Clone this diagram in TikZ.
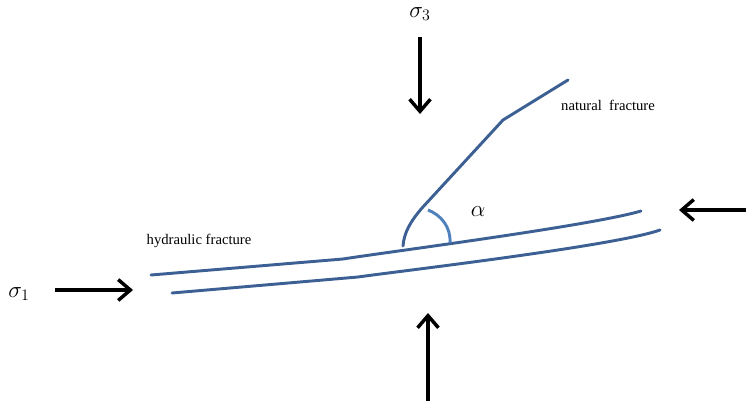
\documentclass[tikz,border=0pt]{standalone}
\usepackage{fontspec}
\setmainfont{Liberation Serif}
\usepackage{tikz}
\usetikzlibrary{arrows.meta}
\definecolor{fracblue}{RGB}{60,96,148}
\definecolor{arcblue}{RGB}{79,129,189}
\tikzset{
  frac/.style={draw=fracblue,line width=2.2pt,line cap=round},
  anglearc/.style={draw=arcblue,line width=2.2pt},
  load/.style={-{Straight Barb[length=3.2mm,width=5.5mm,line width=2.6pt]},
    line width=2.3pt,draw=black},
  lbl/.style={font=\fontsize{11}{13}\selectfont,inner sep=1pt},
  sig/.style={font=\LARGE,inner sep=1pt}
}

\begin{document}
\begin{tikzpicture}[x=0.75pt,y=-0.75pt]
  \useasboundingbox (0,0) rectangle (746,403);

  % stresses
  \node[sig] (s3) at (420,14) {$\sigma_3$};
  \node[sig] (s1) at (19,294) {$\sigma_1$};
  \coordinate (s3a) at (420,37);
  \coordinate (s3b) at (420,114);
  \coordinate (s1a) at (55,290);
  \coordinate (s1b) at (133,290);
  \coordinate (rta) at (746,210);
  \coordinate (rtb) at (679,210);
  \coordinate (bta) at (428,401);
  \coordinate (btb) at (428,313);
  \draw[load] (s3a) -- (s3b);
  \draw[load] (s1a) -- (s1b);
  \draw[load] (rta) -- (rtb);
  \draw[load] (bta) -- (btb);

  % hydraulic fracture
  \coordinate (hu0) at (151,275);
  \coordinate (hu1) at (343,259);
  \coordinate (hu2) at (641,211);
  \coordinate (hl0) at (172,293);
  \coordinate (hl1) at (358,277);
  \coordinate (hl2) at (660,230);
  \draw[frac] (hu0) -- (hu1) .. controls (380,253) and (590,226) .. (hu2);
  \draw[frac] (hl0) -- (hl1) .. controls (400,271) and (615,246) .. (hl2);

  % natural fracture
  \coordinate (nf0) at (403,246);
  \coordinate (nf1) at (503,120);
  \coordinate (nf2) at (568,80);
  \draw[frac] (nf0) .. controls (404,233) and (410,222) .. (422,208) -- (nf1) -- (nf2);

  % angle
  \coordinate (a0) at (428,210);
  \coordinate (a1) at (450,243);
  \draw[anglearc] (a0) .. controls (441,215) and (451,227) .. (a1);
  \node[sig] (alpha) at (478,212) {$\alpha$};

  \node[lbl] (nft) at (608,105) {natural\ \ fracture};
  \node[lbl] (hft) at (199,241) {hydraulic fracture};
\end{tikzpicture}
\end{document}
